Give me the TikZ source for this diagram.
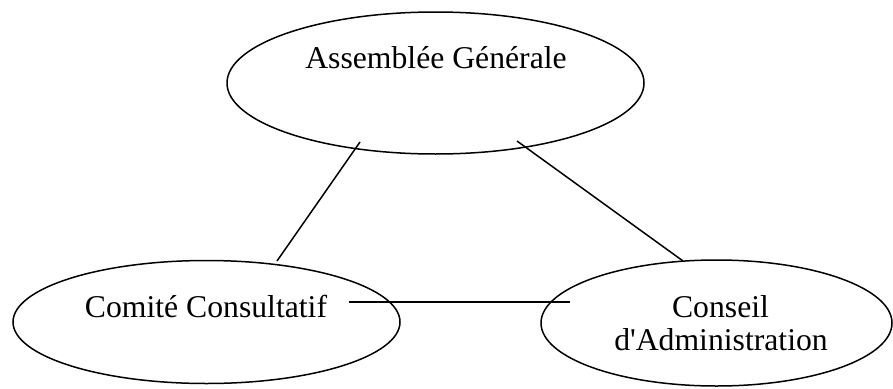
\documentclass[tikz,border=0pt]{standalone}
\usepackage{fontspec}
\setmainfont{Liberation Serif}
\usetikzlibrary{shapes.geometric}
\begin{document}
\begin{tikzpicture}[x=1pt,y=-1pt,
  oval/.style={draw, ellipse, line width=1.5pt, inner sep=0pt},
  lbl/.style={anchor=base, inner sep=0pt, font=\fontsize{31.7}{38}\selectfont},
  link/.style={line width=1.5pt}]
\useasboundingbox (0,0) rectangle (893,388);
\node[oval, minimum width=417, minimum height=142] (ag) at (435.5,83) {};
\node[oval, minimum width=387, minimum height=123] (cc) at (206.5,322) {};
\node[oval, minimum width=351, minimum height=126] (ca) at (716.5,323) {};
\node[lbl] (agt) at (436,68) {Assemblée Générale};
\node[lbl] (cct) at (206,317) {Comité Consultatif};
\node[lbl] (cat1) at (720.5,317) {Conseil};
\node[lbl] (cat2) at (721,350) {d\textquotesingle Administration};
\coordinate (a1) at (360,142);
\coordinate (c1) at (277,261);
\coordinate (a2) at (517,141);
\coordinate (d1) at (683,261);
\coordinate (c2) at (349,302);
\coordinate (d2) at (570,302);
\draw[link] (a1) -- (c1);
\draw[link] (a2) -- (d1);
\draw[link] (c2) -- (d2);
\end{tikzpicture}
\end{document}
